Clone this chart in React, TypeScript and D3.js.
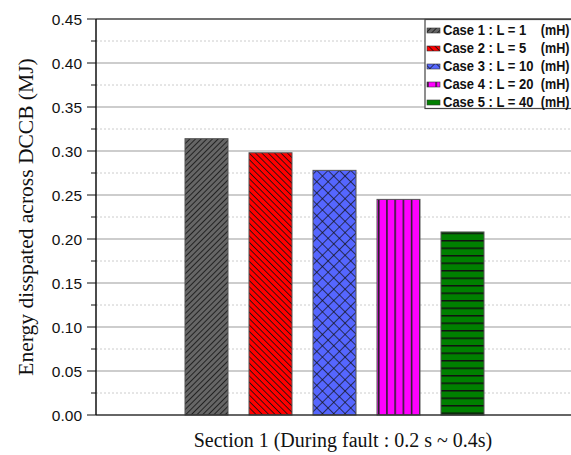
import React from "react";
import * as d3 from "d3";

const categories = ["Case 1", "Case 2", "Case 3", "Case 4", "Case 5"];
const inductance = ["1", "5", "10", "20", "40"];
const energy = [0.314, 0.298, 0.278, 0.245, 0.208];
const yTicks = [0, 0.05, 0.1, 0.15, 0.2, 0.25, 0.3, 0.35, 0.4, 0.45];
const fills = ["#666666", "#ff0000", "#5566ff", "#ff00ff", "#008000"];

const W = 571;
const H = 455;
const m = { left: 96, top: 19, right: 573, bottom: 415 };

export default function App() {
  const y = d3.scaleLinear().domain([0, 0.45]).range([m.bottom, m.top]);
  const x = d3
    .scaleBand<string>()
    .domain(categories)
    .range([185, 484])
    .paddingInner(21 / 64)
    .paddingOuter(0);
  const minor = d3.range(0.025, 0.45, 0.05);
  const sans = "Liberation Sans, Arial, sans-serif";
  const serif = "Liberation Serif, Times New Roman, serif";

  const patterns = (
    <defs>
      <pattern id="p0" patternUnits="userSpaceOnUse" width={4} height={4} patternTransform="rotate(45)">
        <rect width={4} height={4} fill={fills[0]} />
        <line x1={0} y1={0} x2={0} y2={4} stroke="#111" strokeWidth={1.6} />
      </pattern>
      <pattern id="p1" patternUnits="userSpaceOnUse" width={4.5} height={4.5} patternTransform="rotate(-45)">
        <rect width={4.5} height={4.5} fill={fills[1]} />
        <line x1={0} y1={0} x2={0} y2={4.5} stroke="#111" strokeWidth={1.6} />
      </pattern>
      <pattern id="p2" patternUnits="userSpaceOnUse" width={8} height={8} patternTransform="rotate(45)">
        <rect width={8} height={8} fill={fills[2]} />
        <line x1={0} y1={0} x2={0} y2={8} stroke="#111" strokeWidth={1.4} />
        <line x1={0} y1={0} x2={8} y2={0} stroke="#111" strokeWidth={1.4} />
      </pattern>
      <pattern id="p3" patternUnits="userSpaceOnUse" width={8.2} height={8} x={378}>
        <rect width={8.2} height={8} fill={fills[3]} />
        <line x1={0.75} y1={0} x2={0.75} y2={8} stroke="#222" strokeWidth={1.5} />
      </pattern>
      <pattern id="p4" patternUnits="userSpaceOnUse" width={8} height={7.5} y={0}>
        <rect width={8} height={7.5} fill={fills[4]} />
        <line x1={0} y1={0.75} x2={8} y2={0.75} stroke="#111" strokeWidth={1.5} />
      </pattern>
    </defs>
  );

  return (
    <svg width={W} height={H} style={{ position: "absolute", left: 0, top: 0, background: "#fff" }}>
      {patterns}
      {/* dotted minor grid */}
      {minor.map((v) => (
        <line key={"mg" + v} x1={m.left} x2={m.right} y1={y(v)} y2={y(v)} stroke="#cccccc" strokeWidth={1} strokeDasharray="2,2" />
      ))}
      {/* solid major grid */}
      {yTicks.slice(1, -1).map((v) => (
        <line key={"g" + v} x1={m.left} x2={m.right} y1={y(v)} y2={y(v)} stroke="#bdbdbd" strokeWidth={1.3} />
      ))}
      {/* bars */}
      {categories.map((c, i) => (
        <rect
          key={c}
          x={x(c)}
          y={y(energy[i])}
          width={x.bandwidth()}
          height={y(0) - y(energy[i])}
          fill={`url(#p${i})`}
          stroke="#555"
          strokeWidth={1}
        />
      ))}
      {/* frame */}
      <line x1={m.left} x2={m.right} y1={m.top} y2={m.top} stroke="#444" strokeWidth={1.5} />
      <line x1={m.left} x2={m.right} y1={m.bottom} y2={m.bottom} stroke="#333" strokeWidth={1.6} />
      <line x1={m.left} x2={m.left} y1={m.top} y2={m.bottom} stroke="#111" strokeWidth={1.5} />
      {/* y ticks */}
      {yTicks.map((v) => (
        <g key={"t" + v}>
          <line x1={m.left - 9} x2={m.left} y1={y(v)} y2={y(v)} stroke="#111" strokeWidth={1} />
          <text x={82} y={y(v)} dy="0.36em" textAnchor="end" fontFamily={sans} fontSize={15.5} fill="#111">
            {d3.format(".2f")(v)}
          </text>
        </g>
      ))}
      {minor.map((v) => (
        <line key={"mt" + v} x1={m.left - 5} x2={m.left} y1={y(v)} y2={y(v)} stroke="#111" strokeWidth={1} />
      ))}
      {/* axis titles */}
      <text
        transform={`translate(33,${(m.top + m.bottom) / 2}) rotate(-90)`}
        textAnchor="middle"
        fontFamily={serif}
        fontSize={21.5}
        fill="#111"
      >
        Energy disspated across DCCB (MJ)
      </text>
      <text x={343} y={447} textAnchor="middle" fontFamily={serif} fontSize={20} fill="#111">
        Section 1 (During fault : 0.2 s ~ 0.4s)
      </text>
      {/* legend */}
      <rect x={425} y={19.5} width={160} height={89} fill="#fff" stroke="#444" strokeWidth={1.2} />
      {categories.map((c, i) => {
        const cy = 30 + i * 18;
        return (
          <g key={"l" + c}>
            <rect x={427} y={cy - 2} width={13} height={5} fill={`url(#p${i})`} stroke="#333" strokeWidth={0.6} />
            <g transform={`translate(443,${cy}) scale(0.93,1)`}>
              <text dy="0.36em" fontFamily={sans} fontWeight="bold" fontSize={14} fill="#111">
                {`${c} : L = ${inductance[i]}`}
              </text>
            </g>
            <g transform={`translate(569.5,${cy}) scale(0.9,1)`}>
              <text dy="0.36em" textAnchor="end" fontFamily={sans} fontWeight="bold" fontSize={14} fill="#111">
                (mH)
              </text>
            </g>
          </g>
        );
      })}
    </svg>
  );
}
